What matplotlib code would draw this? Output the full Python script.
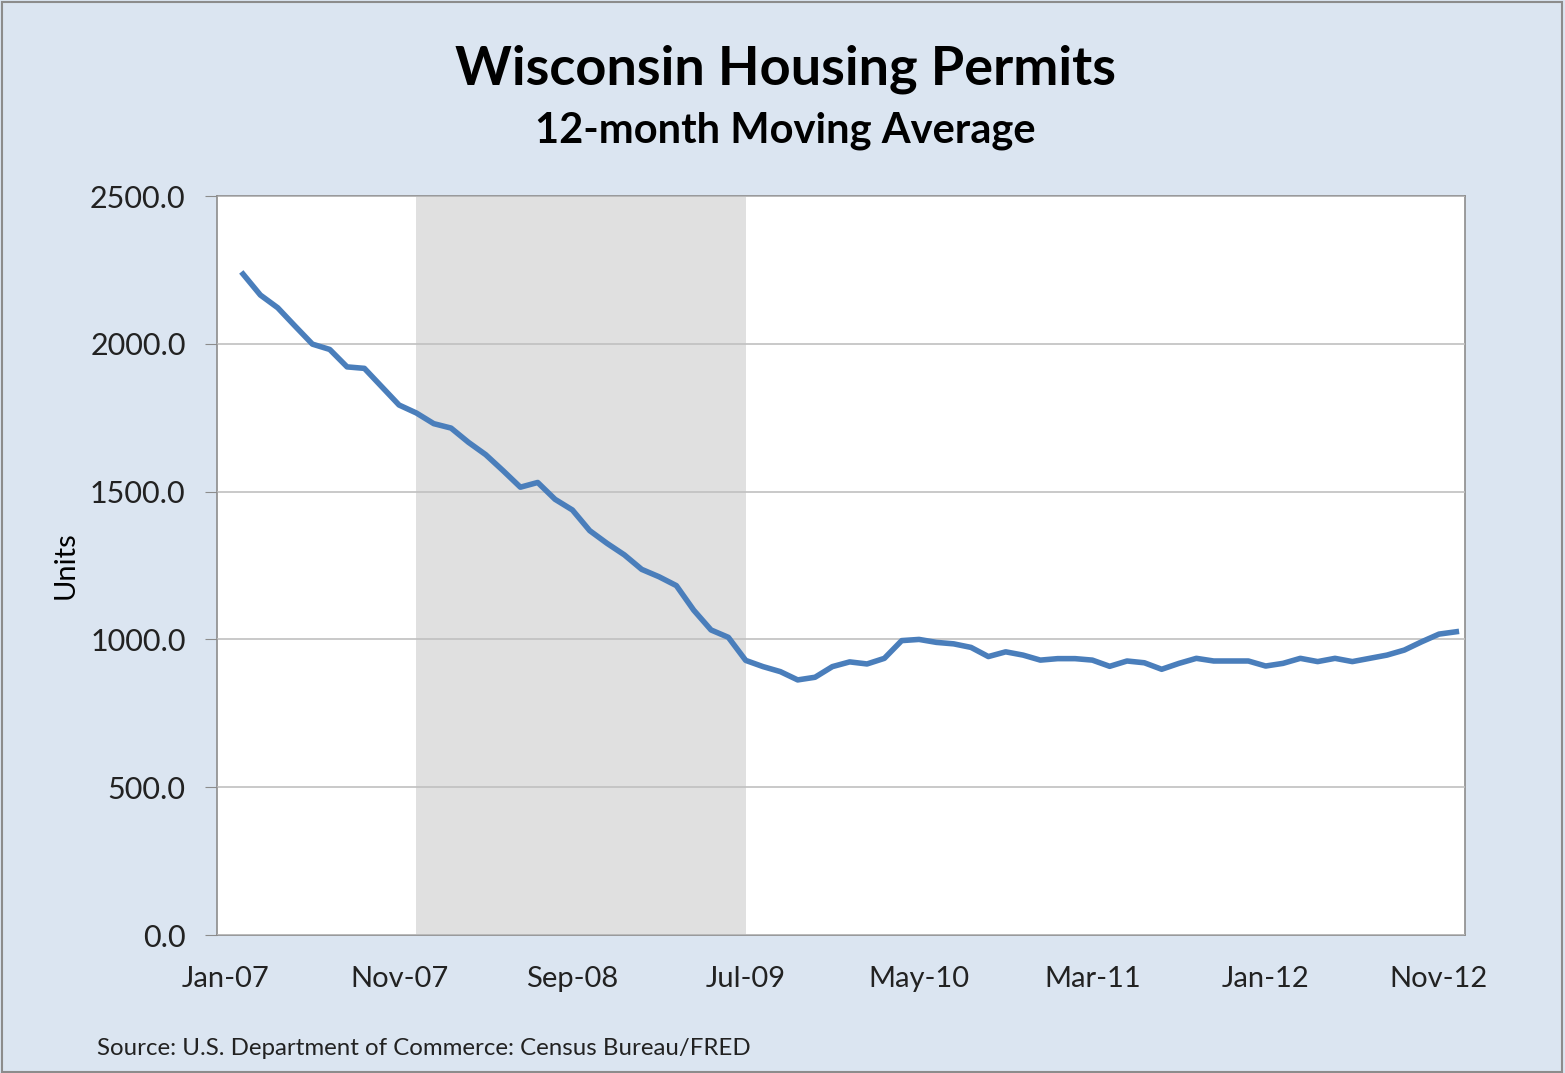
import numpy as np
import pandas as pd
import matplotlib
matplotlib.use("Agg")
import matplotlib.pyplot as plt
from matplotlib.patches import Rectangle

plt.rcParams['font.family'] = ['Lato', 'DejaVu Sans']

# monthly categories Jan-07 .. Dec-12
months = pd.date_range("2007-01-01", "2012-12-01", freq="MS")
month_labels = [d.strftime("%b-%y") for d in months]

# 12-month moving average of permits (Jan-07 has no value)
permits = [np.nan,
           2236, 2165, 2122, 2060, 1999, 1981, 1922, 1917, 1855, 1793,
           1766, 1730, 1715, 1667, 1625, 1571, 1515, 1531, 1474, 1438,
           1368, 1325, 1286, 1237, 1212, 1182, 1099, 1032, 1007, 929,
           908, 891, 863, 872, 908, 924, 917, 936, 996, 1000,
           990, 985, 973, 942, 958, 947, 930, 935, 935, 930,
           909, 927, 921, 899, 919, 936, 927, 927, 927, 910,
           919, 936, 925, 936, 925, 936, 947, 964, 992, 1018,
           1026]

recession = ("Dec-07", "Jul-09")
yticks = [0, 500, 1000, 1500, 2000, 2500]

bg = '#dbe5f1'
fig = plt.figure(figsize=(15.65, 10.73), dpi=100, facecolor=bg)
fig.patches.append(Rectangle((0.001, 0.001), 0.997, 0.997, transform=fig.transFigure,
                             fill=False, edgecolor='#8c8c8c', linewidth=1.5))

ax = fig.add_axes([0.1387, 0.1286, 0.7974, 0.6887])
ax.set_facecolor('white')

x = np.arange(len(month_labels))
ax.axvspan(month_labels.index(recession[0]), month_labels.index(recession[1]),
           color='#e0e0e0', zorder=1, linewidth=0)
ax.plot(x, permits, color='#4a7ebb', linewidth=4, zorder=3, solid_joinstyle='round')

ax.set_xlim(-0.5, len(month_labels) - 0.5)
ax.set_ylim(0, 2500)
ax.set_yticks(yticks)
ax.set_yticklabels([f"{v:.1f}" for v in yticks], fontsize=22, color='#222222')
ax.set_xticks(x[::10])
ax.set_xticklabels(month_labels[::10], fontsize=21, color='#222222')
ax.tick_params(axis='x', length=0, pad=22)
ax.tick_params(axis='y', length=8.6, color='#8c8c8c', pad=14)
ax.yaxis.grid(True, color='#c0c0c0', linewidth=1.2, zorder=2)
ax.set_axisbelow(False)
for s in ax.spines.values():
    s.set_color('#8c8c8c')
    s.set_linewidth(1.2)
ax.set_ylabel("Units", fontsize=21, labelpad=8)

fig.text(0.5017, 0.935, "Wisconsin Housing Permits", ha='center', va='center',
         fontsize=39, fontweight='bold')
fig.text(0.5017, 0.878, "12-month Moving Average", ha='center', va='center',
         fontsize=30, fontweight='bold')
fig.text(0.062, 0.023, "Source: U.S. Department of Commerce: Census Bureau/FRED",
         ha='left', va='center', fontsize=17.3, color='#222222')

fig.savefig("out.png", dpi=100, facecolor=bg)
